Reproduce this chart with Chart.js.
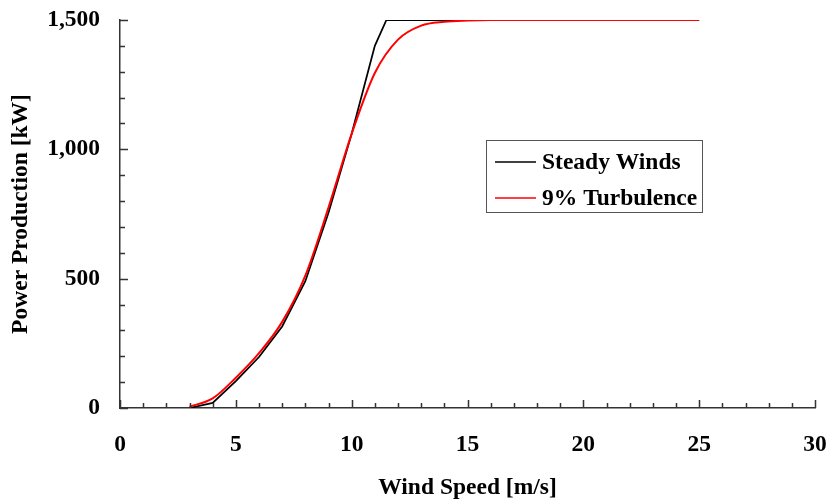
<!DOCTYPE html>
<html>
<head>
<meta charset="utf-8">
<script src="https://cdn.jsdelivr.net/npm/chart.js@4"></script>
<style>
  html, body { margin: 0; padding: 0; background: #fff; }
  #wrap { width: 831px; height: 502px; }
</style>
</head>
<body>
<div id="wrap"><canvas id="chart"></canvas></div>
<script>
// Werte
const steadySpeed = [3, 4, 5, 6, 7, 8, 9, 10, 11, 11.5, 12, 13, 14, 15, 16, 17, 18, 19, 20, 21, 22, 23, 24, 25];
const steadyPower = [0, 20, 104, 197, 315, 490, 755, 1060, 1400, 1500, 1500, 1500, 1500, 1500, 1500, 1500, 1500, 1500, 1500, 1500, 1500, 1500, 1500, 1500];
const turbSpeed = [3, 4, 5, 6, 7, 8, 9, 10, 11, 12, 13, 14, 15, 16, 17, 18, 19, 20, 21, 22, 23, 24, 25];
const turbPower = [5, 37, 117, 212, 333, 512, 775, 1060, 1295, 1424, 1478, 1493, 1498, 1500, 1500, 1500, 1500, 1500, 1500, 1500, 1500, 1500, 1500];
const seriesLabels = ["Steady Winds", "9% Turbulence"];
const xMajorTicks = [0, 5, 10, 15, 20, 25, 30];
const yMajorTicks = [0, 500, 1000, 1500];

const FONT = "'Liberation Serif', 'Times New Roman', serif";
const FSIZE = 23.5;

function toPoints(xs, ys) {
  return xs.map((x, i) => ({ x: x, y: ys[i] }));
}

// Tickmarks nach innen zeichnen (wie im Original)
const innerTicks = {
  id: 'innerTicks',
  afterDraw(chart) {
    const ctx = chart.ctx;
    const xs = chart.scales.x;
    const ys = chart.scales.y;
    const area = chart.chartArea;
    ctx.save();
    ctx.strokeStyle = '#333';
    ctx.lineWidth = 1.5;
    ctx.beginPath();
    for (let v = 0; v <= 30; v++) {
      const px = Math.round(xs.getPixelForValue(v)) + 0.5;
      const len = xMajorTicks.includes(v) ? 8 : 5;
      ctx.moveTo(px, area.bottom);
      ctx.lineTo(px, area.bottom - len);
    }
    for (let v = 0; v <= 1500; v += 100) {
      const py = Math.round(ys.getPixelForValue(v)) + 0.5;
      const len = yMajorTicks.includes(v) ? 8 : 5;
      ctx.moveTo(area.left, py);
      ctx.lineTo(area.left + len, py);
    }
    ctx.stroke();
    ctx.restore();
  }
};

// Legende im Plotbereich mit Rahmen
const boxLegend = {
  id: 'boxLegend',
  afterDraw(chart) {
    const ctx = chart.ctx;
    const x0 = 486, y0 = 140, w = 216, h = 72;
    ctx.save();
    ctx.fillStyle = '#fff';
    ctx.fillRect(x0, y0, w, h);
    ctx.strokeStyle = '#555';
    ctx.lineWidth = 1;
    ctx.strokeRect(x0 + 0.5, y0 + 0.5, w, h);
    ctx.font = 'bold ' + FSIZE + 'px ' + FONT;
    ctx.textBaseline = 'middle';
    chart.data.datasets.forEach((ds, i) => {
      const cy = y0 + 22 + i * 36;
      ctx.strokeStyle = ds.borderColor;
      ctx.lineWidth = 1.5;
      ctx.beginPath();
      ctx.moveTo(x0 + 9, cy);
      ctx.lineTo(x0 + 50, cy);
      ctx.stroke();
      ctx.fillStyle = '#000';
      ctx.fillText(ds.label, x0 + 56, cy + 1);
    });
    ctx.restore();
  }
};

new Chart(document.getElementById('chart'), {
  type: 'line',
  data: {
    datasets: [{
      label: seriesLabels[0],
      data: toPoints(steadySpeed, steadyPower),
      borderColor: '#000000',
      borderWidth: 1.75,
      pointRadius: 0,
      tension: 0,
      order: 2
    }, {
      label: seriesLabels[1],
      data: toPoints(turbSpeed, turbPower),
      borderColor: '#ff0000',
      borderWidth: 2,
      pointRadius: 0,
      cubicInterpolationMode: 'monotone',
      order: 1
    }]
  },
  options: {
    responsive: true,
    maintainAspectRatio: false,
    animation: false,
    layout: { padding: { top: 20, right: 16, left: 0, bottom: 0 } },
    plugins: {
      legend: { display: false },
      tooltip: { enabled: false }
    },
    scales: {
      x: {
        type: 'linear',
        min: 0,
        max: 30,
        grid: { display: false, drawTicks: false },
        border: { display: true, color: '#333', width: 1.5 },
        ticks: {
          stepSize: 1,
          autoSkip: false,
          maxRotation: 0,
          padding: 23,
          color: '#000',
          font: { family: FONT, size: FSIZE, weight: 'bold' },
          callback: v => xMajorTicks.includes(v) ? String(v) : ''
        },
        title: {
          display: true,
          text: 'Wind Speed [m/s]',
          color: '#000',
          font: { family: FONT, size: FSIZE, weight: 'bold' },
          padding: { top: 12, bottom: 0 }
        },
        afterFit: s => { s.height = 94; s.paddingLeft = 0; s.paddingRight = 0; }
      },
      y: {
        type: 'linear',
        min: 0,
        max: 1500,
        grid: { display: false, drawTicks: false },
        border: { display: true, color: '#333', width: 1.5 },
        ticks: {
          stepSize: 100,
          autoSkip: false,
          padding: 20,
          color: '#000',
          font: { family: FONT, size: FSIZE, weight: 'bold' },
          callback: v => yMajorTicks.includes(v) ? v.toLocaleString('en-US') : ''
        },
        title: {
          display: true,
          text: 'Power Production [kW]',
          color: '#000',
          font: { family: FONT, size: FSIZE, weight: 'bold' },
          padding: { top: 7, bottom: 0 }
        },
        afterFit: s => { s.width = 120; s.paddingTop = 0; s.paddingBottom = 0; }
      }
    }
  },
  plugins: [innerTicks, boxLegend]
});
</script>
</body>
</html>
